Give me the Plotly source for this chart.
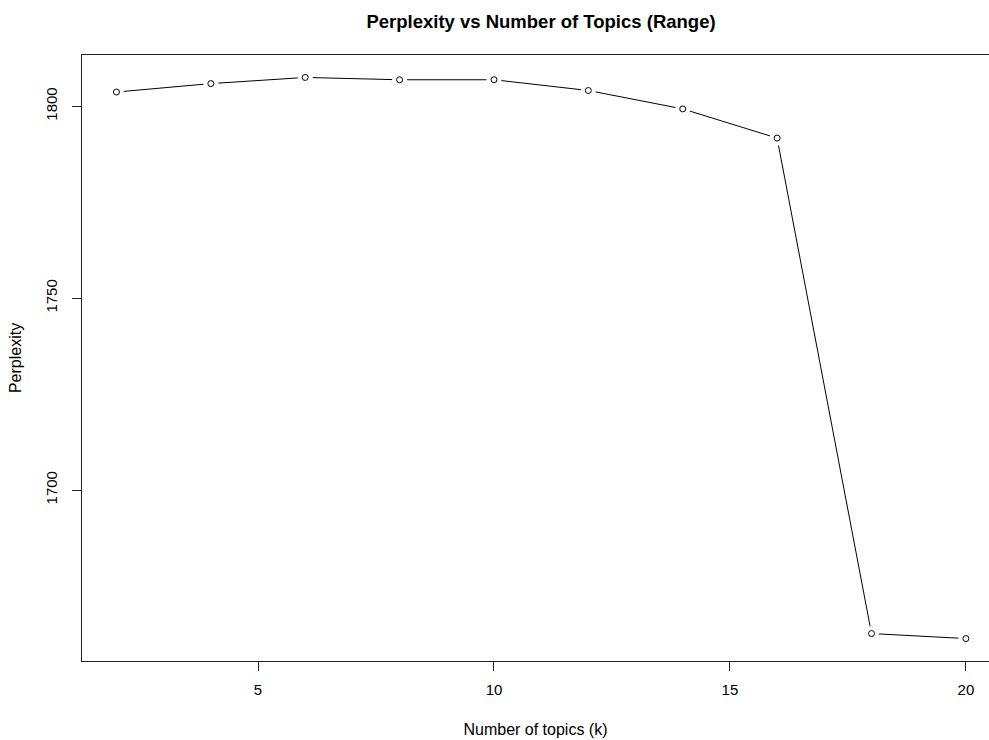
import plotly.graph_objects as go

k_values = [2, 4, 6, 8, 10, 12, 14, 16, 18, 20]
perplexity = [1803.7, 1805.9, 1807.5, 1806.9, 1806.9, 1804.1, 1799.3, 1791.7, 1662.6, 1661.3]
x_ticks = [5, 10, 15, 20]
y_ticks = [1700, 1750, 1800]

FONT = "Liberation Sans, Arial, sans-serif"

fig = go.Figure()
fig.add_trace(go.Scatter(x=k_values, y=perplexity, mode="lines",
                         line=dict(color="black", width=1), hoverinfo="skip"))
# white disks create R type="b" gaps around points
fig.add_trace(go.Scatter(x=k_values, y=perplexity, mode="markers",
                         marker=dict(symbol="circle", size=15, color="white", line=dict(width=0)),
                         hoverinfo="skip"))
fig.add_trace(go.Scatter(x=k_values, y=perplexity, mode="markers",
                         marker=dict(symbol="circle", size=6, color="white",
                                     line=dict(color="black", width=1))))

fig.update_layout(
    width=989, height=740,
    paper_bgcolor="white", plot_bgcolor="white",
    showlegend=False,
    margin=dict(l=82, r=0, t=55, b=79),
    font=dict(family=FONT, size=15, color="black"),
    title=dict(text="<b>Perplexity vs Number of Topics (Range)</b>",
               x=(82 + 1000) / 2 / 989, xanchor="center", y=1 - 21.7 / 740, yanchor="middle",
               font=dict(family=FONT, size=18.5, color="black")),
    xaxis=dict(range=[1.27, 20.49], tickvals=x_ticks, showgrid=False, zeroline=False,
               showline=True, mirror=True, linecolor="#222", linewidth=1,
               ticks="outside", ticklen=9, tickcolor="#222", ticklabelstandoff=6,
               title=dict(text="Number of topics (k)", standoff=26,
                          font=dict(family=FONT, size=16))),
    yaxis=dict(range=[1655.45, 1813.35], tickvals=y_ticks, showgrid=False, zeroline=False,
               showline=True, mirror=False, linecolor="#222", linewidth=1,
               ticks="outside", ticklen=9, tickcolor="#222", tickangle=-90, ticklabelstandoff=9,
               title=dict(text="Perplexity", standoff=17,
                          font=dict(family=FONT, size=16))),
)

fig.write_html("out.html", config={"displayModeBar": False},
               post_script="document.body.style.margin='0';document.body.style.overflow='hidden';")
